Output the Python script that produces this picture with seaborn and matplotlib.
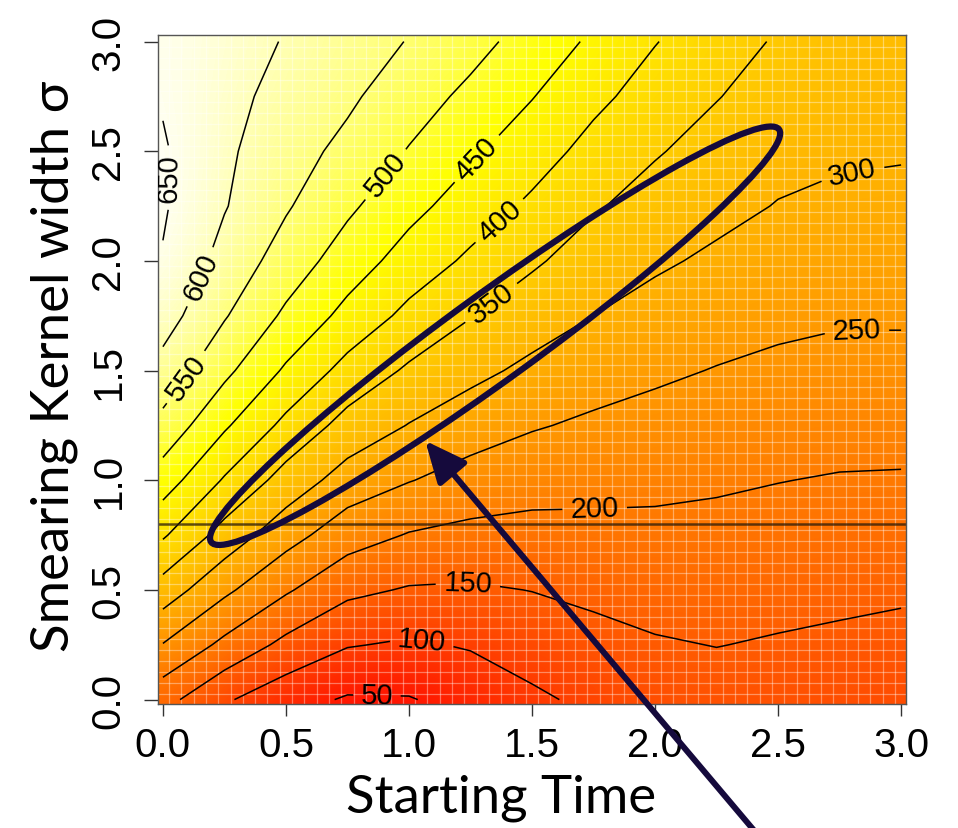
import colorsys
import numpy as np
import matplotlib
matplotlib.use("Agg")
import matplotlib.pyplot as plt
import matplotlib.patches as mpatches
import matplotlib.transforms as mtransforms
import matplotlib.ticker as ticker
import matplotlib.colors as mcolors
import seaborn as sns

# grid of the scan (starting time on x, smearing kernel width on y)
start_time = [0.0, 0.25, 0.5, 0.75, 1.0, 1.25, 1.5, 1.75, 2.0, 2.25, 2.5, 2.75, 3.0]
kernel_width = [0.0, 0.25, 0.5, 0.75, 1.0, 1.25, 1.5, 1.75, 2.0, 2.25, 2.5, 2.75, 3.0]

# values, one column per starting time (bottom -> top in sigma)
z_cols = [
    [167, 248, 328, 406, 475, 535, 583, 622, 647, 655, 655, 646, 645],
    [106, 188, 260, 331, 395, 457, 512, 554, 583, 603, 609, 616, 622],
    [69, 137, 206, 269, 331, 387, 443, 491, 528, 555, 569, 583, 597],
    [45, 103, 161, 222, 278, 333, 383, 435, 476, 509, 538, 558, 572],
    [47, 94, 146, 197, 252, 298, 343, 387, 429, 465, 497, 524, 548],
    [68, 104, 144, 187, 231, 273, 313, 352, 391, 426, 458, 488, 518],
    [92, 120, 151, 184, 219, 254, 289, 323, 357, 391, 422, 452, 479],
    [110, 135, 160, 187, 214, 242, 271, 300, 327, 355, 384, 412, 442],
    [125, 146, 167, 188, 211, 234, 258, 283, 307, 331, 354, 379, 402],
    [130, 151, 169, 187, 206, 227, 248, 270, 292, 313, 332, 352, 372],
    [128, 146, 165, 183, 201, 221, 241, 260, 279, 298, 314, 330, 345],
    [125, 142, 160, 178, 197, 217, 236, 255, 272, 290, 307, 316, 325],
    [122, 138, 156, 176, 196, 216, 236, 255, 271, 288, 304, 312, 320],
]

contour_levels = [50, 100, 150, 200, 250, 300, 350, 400, 450, 500, 550, 600, 650]
label_spots = [(0.03, 2.38), (0.166, 1.92), (0.105, 1.46), (0.91, 2.39), (1.29, 2.45),
               (1.37, 2.18), (1.34, 1.80), (2.80, 2.42), (2.82, 1.66), (1.755, 0.86),
               (1.24, 0.53), (1.05, 0.255), (0.87, 0.02)]
tick_vals = [0.0, 0.5, 1.0, 1.5, 2.0, 2.5, 3.0]
tick_labels = ["0.0", "0.5", "1.0", "1.5", "2.0", "2.5", "3.0"]
sigma_cut = 0.8

# hand-drawn annotation (ellipse + arrow), in data units
ellipse_center = (1.35, 1.659)
arrow_tip = (1.066, 1.18)
arrow_tail = (2.42, -0.62)
navy = "#150a3c"


def r_heat_colors(n):
    # same recipe as R's heat.colors()
    j = n // 4
    i = n - j
    cols = [colorsys.hsv_to_rgb(h, 1, 1) for h in np.linspace(0, 1 / 6, i)]
    cols += [colorsys.hsv_to_rgb(1 / 6, s, 1) for s in np.linspace(1 - 1 / (2 * j), 1 / (2 * j), j)]
    return cols


sns.set_theme(style="white")
plt.rcParams["font.family"] = ["Liberation Sans", "DejaVu Sans"]
plt.rcParams["text.color"] = "black"
cmap = sns.blend_palette(r_heat_colors(128), n_colors=256, as_cmap=True)

Z = np.array(z_cols).T

fig = plt.figure(figsize=(9.58, 8.29), dpi=100)
ax = fig.add_axes([158 / 958, 1 - 705 / 829, 748 / 958, 669 / 829])

ax.imshow(Z, origin="lower", extent=[-0.125, 3.125, -0.125, 3.125], cmap=cmap,
          norm=mcolors.PowerNorm(gamma=0.75, vmin=Z.min() - 5, vmax=Z.max()),
          interpolation="bicubic", aspect="auto")

# faint white cell lines like the R image() rendering
ax.xaxis.set_minor_locator(ticker.FixedLocator(np.arange(0.025, 3.0, 0.05)))
ax.yaxis.set_minor_locator(ticker.FixedLocator(np.arange(0.025, 3.0, 0.05)))
ax.grid(which="minor", color="white", alpha=0.38, lw=0.9)
ax.tick_params(which="minor", length=0)

cs = ax.contour(start_time, kernel_width, Z, levels=contour_levels, colors="black", linewidths=1.1)
ax.clabel(cs, manual=label_spots, inline=True, fmt="%d", fontsize=21, inline_spacing=6, colors="black")

ax.axhline(sigma_cut, color="#2a1a0a", lw=1.8, alpha=0.75)

trans = fig.dpi_scale_trans + mtransforms.ScaledTranslation(ellipse_center[0], ellipse_center[1], ax.transData)
ax.add_patch(mpatches.Ellipse((0, 0), width=7.02, height=0.86, angle=36, transform=trans,
                              fill=False, ec=navy, lw=4.5, zorder=5))

ax.annotate("", xy=arrow_tip, xytext=arrow_tail, xycoords="data", textcoords="data",
            arrowprops=dict(arrowstyle="-|>,head_length=1.0,head_width=0.45", mutation_scale=25,
                            color=navy, lw=4.3, shrinkA=0, shrinkB=0),
            annotation_clip=False, zorder=6)

ax.set_xlim(-0.02, 3.02)
ax.set_ylim(-0.02, 3.03)
ax.set_xticks(tick_vals, tick_labels)
ax.set_yticks(tick_vals, tick_labels)
ax.tick_params(axis="both", which="major", direction="out", labelsize=29, color="#333333",
               labelcolor="black", width=1.0, bottom=True, left=True)
ax.tick_params(axis="x", which="major", length=8.5, pad=7)
ax.tick_params(axis="y", which="major", length=10, pad=12, labelrotation=90)
for lab in ax.get_yticklabels():
    lab.set_va("center")

for sp in ax.spines.values():
    sp.set_color("#555555")
    sp.set_linewidth(1.0)

ax.set_xlabel("Starting Time", fontsize=38, color="black", family=["Lato", "DejaVu Sans"])
ax.xaxis.set_label_coords(0.4586, -0.104)
ax.set_ylabel("Smearing Kernel width σ", fontsize=38, color="black", family=["Lato", "DejaVu Sans"])
ax.yaxis.set_label_coords(-0.107, 0.506)

fig.savefig("out.png", dpi=100)
